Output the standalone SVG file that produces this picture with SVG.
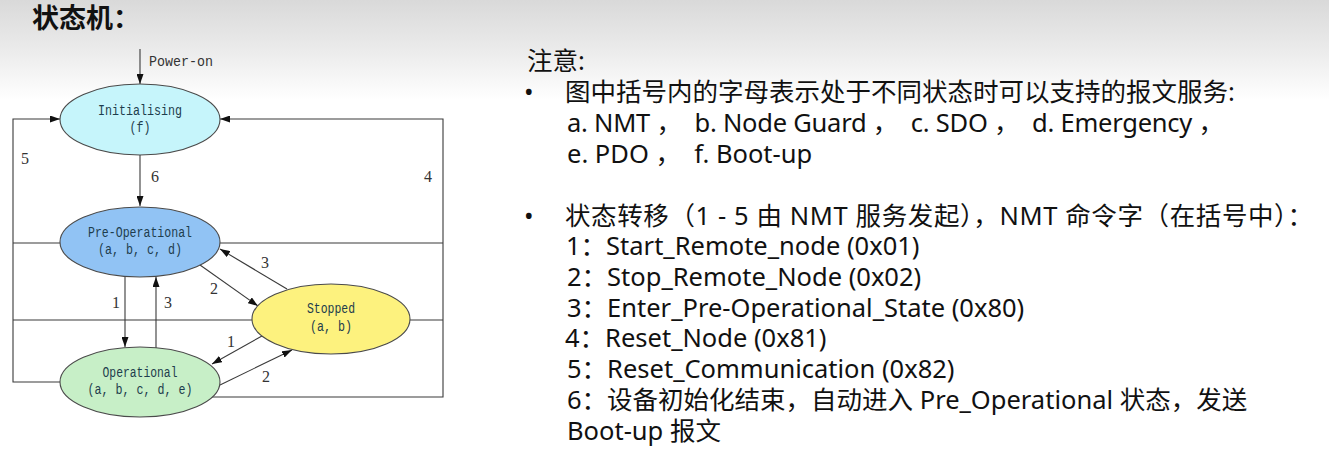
<svg xmlns="http://www.w3.org/2000/svg" width="1329" height="454" viewBox="0 0 1329 454">
  <defs>
    <linearGradient id="headerFade" x1="0" y1="0" x2="0" y2="1">
      <stop offset="0" stop-color="#d9d9d9"/>
      <stop offset="0.5" stop-color="#ebebeb"/>
      <stop offset="1" stop-color="#ffffff"/>
    </linearGradient>
    <marker id="arrow" viewBox="0 0 10 7" refX="10" refY="3.5" markerWidth="10" markerHeight="7" markerUnits="userSpaceOnUse" orient="auto">
      <path d="M0,0 L10,3.5 L0,7 z" fill="#111"/>
    </marker>
    <style>
      .state { stroke: #4a4a4a; stroke-width: 1.1; }
      .label { font-family: "Liberation Mono", "DejaVu Sans Mono", monospace; font-size: 14px; fill: #1e3d4d; text-anchor: middle; }
      .num { font-family: "Liberation Serif", "DejaVu Serif", serif; font-size: 16px; fill: #333; }
      .wire { fill: none; stroke: #3a3a3a; stroke-width: 1.1; }
      .arrowed { marker-end: url(#arrow); }
      .note { font-family: "Noto Sans", "Noto Sans CJK SC", sans-serif; font-size: 25.5px; fill: #111; }
      .title { font-family: "Noto Sans CJK SC", sans-serif; font-size: 27px; font-weight: bold; fill: #111; }
    </style>
  </defs>

  <!-- page background with a soft grey band at the top -->
  <rect x="0" y="0" width="1329" height="454" fill="#ffffff"/>
  <rect x="0" y="0" width="1329" height="100" fill="url(#headerFade)"/>

  <text class="title" x="32" y="28">状态机：</text>

  <!-- transitions -->
  <g id="connectors">
    <line class="wire arrowed" x1="140" y1="49" x2="140" y2="84"/>
    <text x="149" y="66" textLength="64" lengthAdjust="spacingAndGlyphs" style="font-family:'Liberation Mono','DejaVu Sans Mono',monospace;font-size:14px;fill:#333">Power-on</text>

    <line class="wire arrowed" x1="140" y1="155" x2="140" y2="206"/>
    <text class="num" x="151" y="182">6</text>

    <!-- reset communication (5) back to Initialising, left side -->
    <path class="wire arrowed" d="M60,382 H13 V119 H60"/>
    <path class="wire" d="M60,243 H13"/>
    <path class="wire" d="M252,320 H13"/>
    <text class="num" x="21" y="164">5</text>

    <!-- reset node (4) back to Initialising, right side -->
    <path class="wire arrowed" d="M211,397 H443 V119 H220"/>
    <path class="wire" d="M220,243 H443"/>
    <path class="wire" d="M410,320 H443"/>
    <text class="num" x="424" y="182">4</text>

    <!-- Pre-Operational <-> Operational -->
    <line class="wire arrowed" x1="125" y1="276" x2="125" y2="347"/>
    <text class="num" x="112" y="308">1</text>
    <line class="wire arrowed" x1="156" y1="348" x2="156" y2="277"/>
    <text class="num" x="164" y="308">3</text>

    <!-- Pre-Operational <-> Stopped -->
    <line class="wire arrowed" x1="200" y1="265" x2="258" y2="306"/>
    <text class="num" x="210" y="294">2</text>
    <line class="wire arrowed" x1="287" y1="289" x2="220" y2="249"/>
    <text class="num" x="261" y="268">3</text>

    <!-- Stopped <-> Operational -->
    <line class="wire arrowed" x1="262" y1="336" x2="212" y2="364"/>
    <text class="num" x="227" y="347">1</text>
    <line class="wire arrowed" x1="220" y1="385" x2="292" y2="350"/>
    <text class="num" x="262" y="382">2</text>
  </g>

  <!-- states -->
  <g id="initialising">
    <ellipse class="state" cx="140" cy="119.5" rx="80" ry="35.5" fill="#c6f5fb"/>
    <text class="label" x="140" y="115" textLength="84" lengthAdjust="spacingAndGlyphs">Initialising</text>
    <text class="label" x="140" y="132" textLength="21" lengthAdjust="spacingAndGlyphs">(f)</text>
  </g>
  <g id="pre-operational">
    <ellipse class="state" cx="140" cy="242" rx="80" ry="35" fill="#91c3f4"/>
    <text class="label" x="140" y="237" textLength="104" lengthAdjust="spacingAndGlyphs">Pre-Operational</text>
    <text class="label" x="140" y="254" textLength="84" lengthAdjust="spacingAndGlyphs">(a, b, c, d)</text>
  </g>
  <g id="stopped">
    <ellipse class="state" cx="331" cy="319" rx="79" ry="35" fill="#fdf27e"/>
    <text class="label" x="331" y="313" textLength="48" lengthAdjust="spacingAndGlyphs">Stopped</text>
    <text class="label" x="331" y="331" textLength="42" lengthAdjust="spacingAndGlyphs">(a, b)</text>
  </g>
  <g id="operational">
    <ellipse class="state" cx="140" cy="382" rx="80" ry="35" fill="#c7efc7"/>
    <text class="label" x="140" y="377" textLength="75" lengthAdjust="spacingAndGlyphs">Operational</text>
    <text class="label" x="140" y="394" textLength="105" lengthAdjust="spacingAndGlyphs">(a, b, c, d, e)</text>
  </g>

  <!-- notes -->
  <g id="notes">
    <text class="note" x="527" y="70">注意:</text>
    <text class="note" x="524" y="101">•</text>
    <text class="note" x="565" y="101">图中括号内的字母表示处于不同状态时可以支持的报文服务:</text>
    <text class="note" x="567" y="132" xml:space="preserve" textLength="657" lengthAdjust="spacing">a. NMT ，  b. Node Guard ，  c. SDO ，  d. Emergency ，</text>
    <text class="note" x="567" y="163" xml:space="preserve">e. PDO ，  f. Boot-up</text>

    <text class="note" x="524" y="225">•</text>
    <text class="note" x="565" y="225" textLength="748" lengthAdjust="spacing">状态转移（1 - 5 由 NMT 服务发起），NMT 命令字（在括号中）：</text>
    <text class="note" x="566" y="255">1：Start_Remote_node (0x01)</text>
    <text class="note" x="567" y="286">2：Stop_Remote_Node (0x02)</text>
    <text class="note" x="567" y="317">3：Enter_Pre-Operational_State (0x80)</text>
    <text class="note" x="565" y="347">4：Reset_Node (0x81)</text>
    <text class="note" x="567" y="378">5：Reset_Communication (0x82)</text>
    <text class="note" x="567" y="409">6：设备初始化结束，自动进入 Pre_Operational 状态，发送</text>
    <text class="note" x="567" y="440">Boot-up 报文</text>
  </g>
</svg>
